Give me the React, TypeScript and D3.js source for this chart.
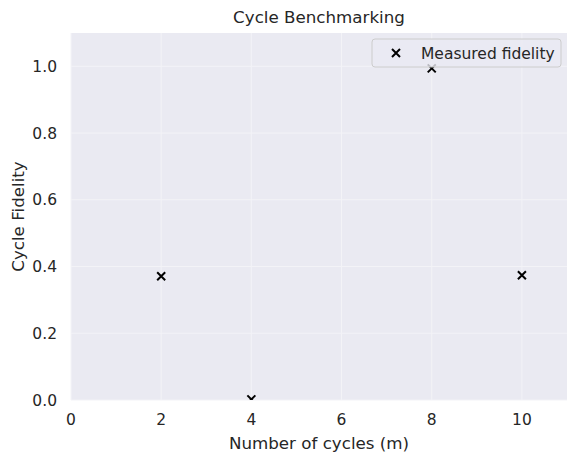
import { useEffect, useRef } from "react";
import * as d3 from "d3";

const cycles = [2, 4, 8, 10];
const fidelity = [0.371, 0.002, 0.994, 0.374];
const xTicks = [0, 2, 4, 6, 8, 10];
const yTicks = [0, 0.2, 0.4, 0.6, 0.8, 1.0];

const W = 577;
const H = 463;

export default function App() {
  const svgRef = useRef<SVGSVGElement>(null);

  useEffect(() => {
    if (!svgRef.current) return;
    const margin = { top: 33, right: 10, bottom: 63, left: 71 };
    const innerWidth = W - margin.left - margin.right;
    const innerHeight = H - margin.top - margin.bottom;
    const font = "DejaVu Sans, sans-serif";
    const ink = "#262626";

    const svg = d3.select(svgRef.current);
    svg.selectAll("*").remove();
    svg.append("rect").attr("width", W).attr("height", H).attr("fill", "#ffffff");

    const g = svg.append("g").attr("transform", `translate(${margin.left},${margin.top})`);

    const x = d3.scaleLinear().domain([0, 11]).range([0, innerWidth]);
    const y = d3.scaleLinear().domain([0, 1.1]).range([innerHeight, 0]);

    // darkgrid background
    g.append("rect").attr("width", innerWidth).attr("height", innerHeight).attr("fill", "#eaeaf2");

    // Gridlines (faint)
    const gridColor = "#f3f3f7";
    g.append("g")
      .selectAll("line")
      .data(xTicks)
      .enter()
      .append("line")
      .attr("x1", (d) => x(d))
      .attr("x2", (d) => x(d))
      .attr("y1", 0)
      .attr("y2", innerHeight)
      .attr("stroke", gridColor)
      .attr("stroke-width", 1);
    g.append("g")
      .selectAll("line")
      .data(yTicks)
      .enter()
      .append("line")
      .attr("x1", 0)
      .attr("x2", innerWidth)
      .attr("y1", (d) => y(d))
      .attr("y2", (d) => y(d))
      .attr("stroke", gridColor)
      .attr("stroke-width", 1);

    // Tick labels
    g.append("g")
      .selectAll("text")
      .data(xTicks)
      .enter()
      .append("text")
      .attr("x", (d) => x(d))
      .attr("y", innerHeight + 25)
      .attr("text-anchor", "middle")
      .attr("fill", ink)
      .style("font-family", font)
      .style("font-size", "15.5px")
      .text((d) => d3.format("d")(d));
    g.append("g")
      .selectAll("text")
      .data(yTicks)
      .enter()
      .append("text")
      .attr("x", -14)
      .attr("y", (d) => y(d))
      .attr("dy", "0.36em")
      .attr("text-anchor", "end")
      .attr("fill", ink)
      .style("font-family", font)
      .style("font-size", "15.5px")
      .text((d) => d3.format(".1f")(d));

    // Markers, clipped to the axes
    svg
      .append("defs")
      .append("clipPath")
      .attr("id", "plot-clip")
      .append("rect")
      .attr("width", innerWidth)
      .attr("height", innerHeight);

    const s = 4;
    const cross = (cx: number, cy: number) =>
      `M${cx - s},${cy - s}L${cx + s},${cy + s}M${cx - s},${cy + s}L${cx + s},${cy - s}`;

    g.append("g")
      .attr("clip-path", "url(#plot-clip)")
      .selectAll("path")
      .data(cycles.map((c, i) => ({ c, f: fidelity[i] })))
      .enter()
      .append("path")
      .attr("d", (d) => cross(x(d.c), y(d.f)))
      .attr("stroke", "#000000")
      .attr("stroke-width", 2)
      .attr("fill", "none");

    // Legend
    const legend = g.append("g").attr("transform", `translate(${innerWidth - 195},6)`);
    legend
      .append("rect")
      .attr("width", 189)
      .attr("height", 28)
      .attr("rx", 3)
      .attr("fill", "#eaeaf2")
      .attr("fill-opacity", 0.8)
      .attr("stroke", "#cccccc")
      .attr("stroke-width", 1);
    legend
      .append("path")
      .attr("d", cross(24, 14))
      .attr("stroke", "#000000")
      .attr("stroke-width", 2)
      .attr("fill", "none");
    legend
      .append("text")
      .attr("x", 49)
      .attr("y", 14)
      .attr("dy", "0.36em")
      .attr("fill", ink)
      .style("font-family", font)
      .style("font-size", "15.5px")
      .text("Measured fidelity");

    // Title and axis labels
    svg
      .append("text")
      .attr("x", margin.left + innerWidth / 2)
      .attr("y", 23)
      .attr("text-anchor", "middle")
      .attr("fill", ink)
      .style("font-family", font)
      .style("font-size", "16.7px")
      .text("Cycle Benchmarking");
    svg
      .append("text")
      .attr("x", margin.left + innerWidth / 2)
      .attr("y", 449)
      .attr("text-anchor", "middle")
      .attr("fill", ink)
      .style("font-family", font)
      .style("font-size", "16.7px")
      .text("Number of cycles (m)");
    svg
      .append("text")
      .attr("transform", `translate(24,${margin.top + innerHeight / 2}) rotate(-90)`)
      .attr("text-anchor", "middle")
      .attr("fill", ink)
      .style("font-family", font)
      .style("font-size", "16.7px")
      .text("Cycle Fidelity");
  }, []);

  return (
    <div style={{ position: "absolute", left: 0, top: 0 }}>
      <svg ref={svgRef} width={W} height={H} style={{ display: "block" }} />
    </div>
  );
}
